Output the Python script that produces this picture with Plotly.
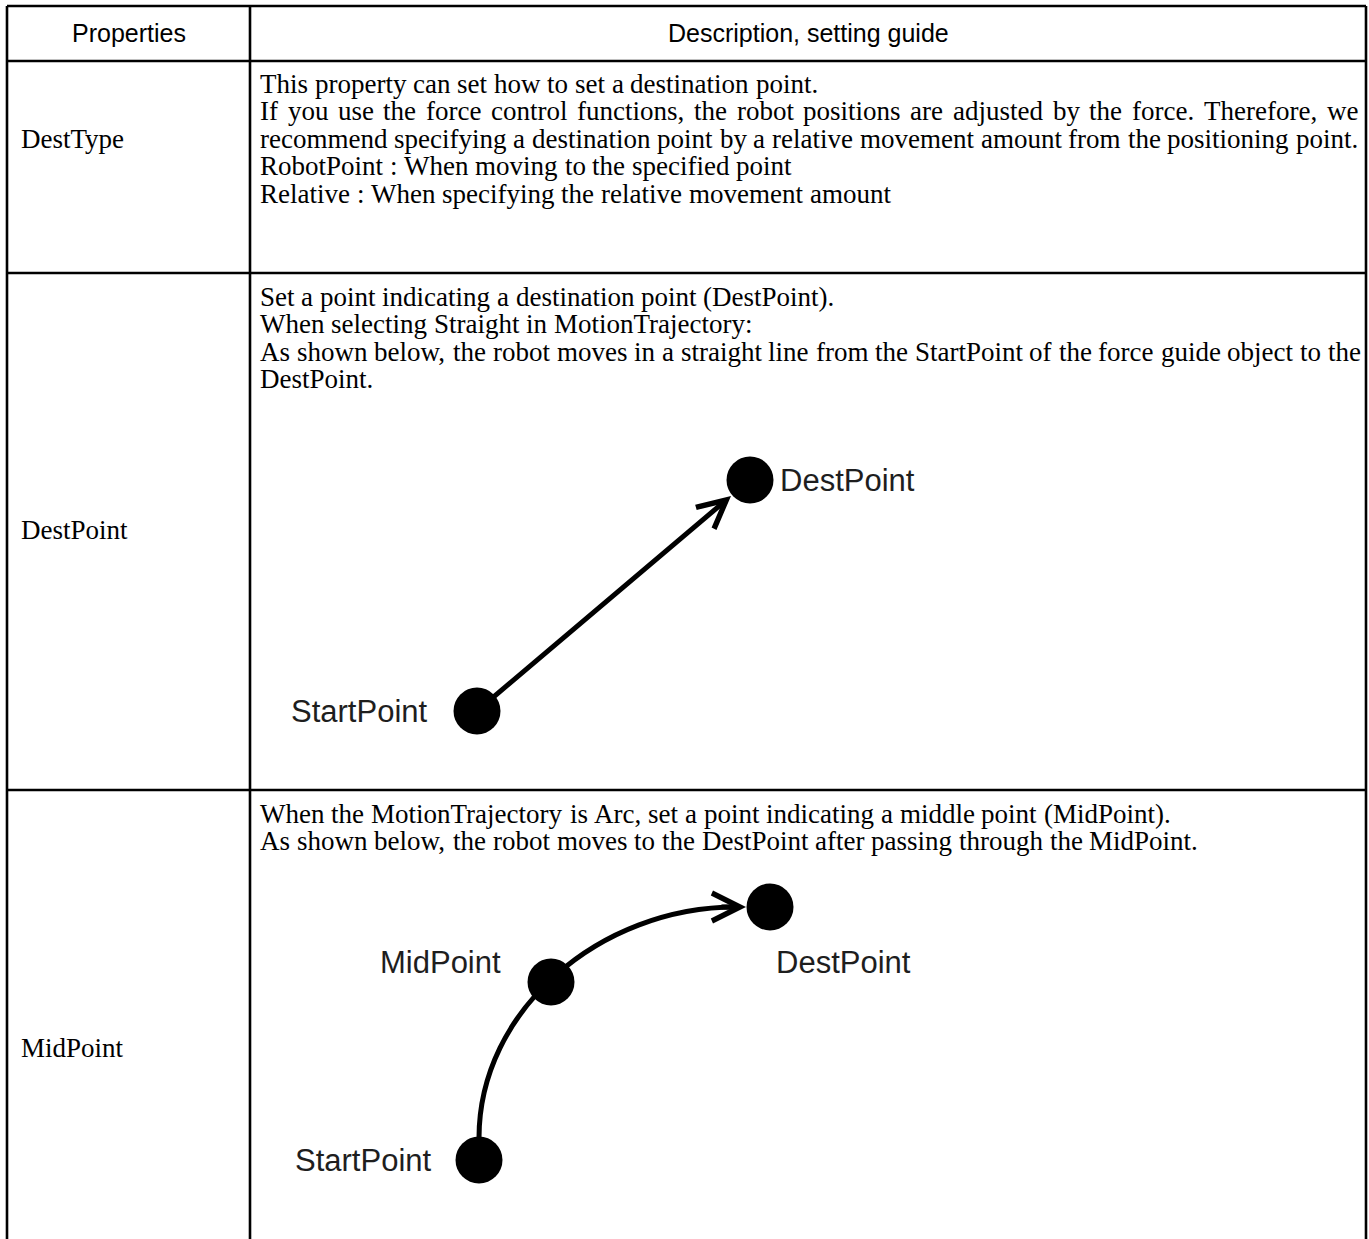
import plotly.graph_objects as go

PAGE_W, PAGE_H = 1369, 1239

# ---------------- table content ----------------
header_labels = ["Properties", "Description, setting guide"]
property_names = ["DestType", "DestPoint", "MidPoint"]
desc_desttype = [
    "This property can set how to set a destination point.",
    "If you use the force control functions, the robot positions are adjusted by the force. Therefore, we",
    "recommend specifying a destination point by a relative movement amount from the positioning point.",
    "RobotPoint : When moving to the specified point",
    "Relative : When specifying the relative movement amount",
]
desc_destpoint = [
    "Set a point indicating a destination point (DestPoint).",
    "When selecting Straight in MotionTrajectory:",
    "As shown below, the robot moves in a straight line from the StartPoint of the force guide object to the",
    "DestPoint.",
]
desc_midpoint = [
    "When the MotionTrajectory is Arc, set a point indicating a middle point (MidPoint).",
    "As shown below, the robot moves to the DestPoint after passing through the MidPoint.",
]
descriptions = [desc_desttype, desc_destpoint, desc_midpoint]
# wrapped lines inside a paragraph (justified to the right margin in the document)
justified_lines = [[1], [2], []]

# ---------------- table geometry (page pixels) ----------------
col_edges = [7, 250, 1366]
row_edges = [6, 61, 273, 790]
header_y = 33
label_x = 20
label_y = [139, 530, 1048]
desc_x = 259
desc_right = 1357
desc_first_y = [84, 297, 814]
line_step = 27.4

# ---------------- diagram 1 : Straight ----------------
straight_names = ["StartPoint", "DestPoint"]
straight_x = [477, 750]
straight_y = [711, 480]
straight_label_x = [430, 778]
straight_label_y = [711, 480]
straight_label_anchor = ["right", "left"]
straight_tip = (731, 496)

# ---------------- diagram 2 : Arc ----------------
arc_names = ["StartPoint", "MidPoint", "DestPoint"]
arc_x = [479, 551, 770]
arc_y = [1160, 982, 907]
arc_label_x = [434, 378, 774]
arc_label_y = [1160, 962, 962]
arc_label_anchor = ["right", "left", "left"]
arc_ctrl_x = [479, 479, 600, 746]
arc_ctrl_y = [1138, 1010, 907, 907]
arc_tail = (720, 907)

SERIF = "Liberation Serif, Times New Roman, serif"
SANS = "Liberation Sans, Arial, sans-serif"
BODY = 27
LINE_W = 2.6
ARROW_W = 5

# Times / Liberation Serif advance widths (1/1000 em), used to lay words out on a line
TIMES_W = {" ": 250, ",": 250, ".": 250, ":": 278, "(": 333, ")": 333,
           "A": 722, "D": 722, "I": 333, "M": 889, "P": 556, "R": 667, "S": 556, "T": 611, "W": 944,
           "a": 444, "b": 500, "c": 444, "d": 500, "e": 444, "f": 333, "g": 500, "h": 500, "i": 278,
           "j": 278, "k": 500, "l": 278, "m": 778, "n": 500, "o": 500, "p": 500, "q": 500, "r": 333,
           "s": 389, "t": 278, "u": 500, "v": 500, "w": 722, "x": 500, "y": 500, "z": 444}


def text_w(s, size):
    return sum(TIMES_W.get(ch, 500) for ch in s) / 1000.0 * size


fig = go.Figure()
shapes = []
annotations = []

# table lines
for y in row_edges:
    shapes.append(dict(type="line", xref="x", yref="y", x0=col_edges[0], x1=col_edges[-1],
                       y0=y, y1=y, line=dict(color="black", width=LINE_W)))
for x in col_edges:
    shapes.append(dict(type="line", xref="x", yref="y", x0=x, x1=x,
                       y0=row_edges[0], y1=PAGE_H + 5, line=dict(color="black", width=LINE_W)))

# header
for i, h in enumerate(header_labels):
    cx = (col_edges[i] + col_edges[i + 1]) / 2
    annotations.append(dict(x=cx, y=header_y, xref="x", yref="y", text=h, showarrow=False,
                            xanchor="center", yanchor="middle",
                            font=dict(family=SANS, size=25, color="black")))


def body_text(x, y, s):
    annotations.append(dict(x=x, y=y, xref="x", yref="y", text=s, showarrow=False,
                            xanchor="left", yanchor="middle", borderpad=0,
                            font=dict(family=SERIF, size=BODY, color="black")))


# property names and descriptions (laid out word by word)
for i, name in enumerate(property_names):
    body_text(label_x, label_y[i], name)
    for j, line in enumerate(descriptions[i]):
        y = desc_first_y[i] + j * line_step
        words = line.split(" ")
        natural = sum(text_w(w, BODY) for w in words)
        space = text_w(" ", BODY)
        if j in justified_lines[i] and len(words) > 1:
            space = max(space, (desc_right - desc_x - natural) / (len(words) - 1))
        x = desc_x
        for w in words:
            body_text(x, y, w)
            x += text_w(w, BODY) + space

# diagram 1 : straight arrow
annotations.append(dict(x=straight_tip[0], y=straight_tip[1], ax=straight_x[0], ay=straight_y[0],
                        xref="x", yref="y", axref="x", ayref="y", text="", showarrow=True,
                        arrowhead=5, arrowsize=1.1, arrowwidth=ARROW_W, arrowcolor="black",
                        standoff=0, startstandoff=0))
fig.add_trace(go.Scatter(x=straight_x, y=straight_y, mode="markers",
                         marker=dict(size=47, color="black"), hoverinfo="skip"))
for i, n in enumerate(straight_names):
    annotations.append(dict(x=straight_label_x[i], y=straight_label_y[i], xref="x", yref="y", text=n,
                            showarrow=False, xanchor=straight_label_anchor[i], yanchor="middle",
                            font=dict(family=SANS, size=31, color="#1e1e1e")))

# diagram 2 : arc
path = "M {},{} C {},{} {},{} {},{}".format(arc_ctrl_x[0], arc_ctrl_y[0], arc_ctrl_x[1], arc_ctrl_y[1],
                                           arc_ctrl_x[2], arc_ctrl_y[2], arc_ctrl_x[3] - 10, arc_ctrl_y[3])
shapes.append(dict(type="path", xref="x", yref="y", path=path, layer="below",
                   line=dict(color="black", width=ARROW_W)))
annotations.append(dict(x=arc_ctrl_x[3], y=arc_ctrl_y[3], ax=arc_tail[0], ay=arc_tail[1],
                        xref="x", yref="y", axref="x", ayref="y", text="", showarrow=True,
                        arrowhead=5, arrowsize=1.1, arrowwidth=ARROW_W, arrowcolor="black",
                        standoff=0, startstandoff=0))
fig.add_trace(go.Scatter(x=arc_x, y=arc_y, mode="markers",
                         marker=dict(size=47, color="black"), hoverinfo="skip"))
for i, n in enumerate(arc_names):
    annotations.append(dict(x=arc_label_x[i], y=arc_label_y[i], xref="x", yref="y", text=n,
                            showarrow=False, xanchor=arc_label_anchor[i], yanchor="middle",
                            font=dict(family=SANS, size=31, color="#1e1e1e")))

fig.update_layout(
    width=PAGE_W, height=PAGE_H,
    margin=dict(l=0, r=0, t=0, b=0),
    paper_bgcolor="white", plot_bgcolor="white",
    showlegend=False,
    xaxis=dict(range=[0, PAGE_W], visible=False, fixedrange=True),
    yaxis=dict(range=[PAGE_H, 0], visible=False, fixedrange=True),
    shapes=shapes, annotations=annotations,
)

fig.write_html("out.html", config={"displayModeBar": False},
               post_script="document.body.style.margin='0';document.body.style.overflow='hidden';")
